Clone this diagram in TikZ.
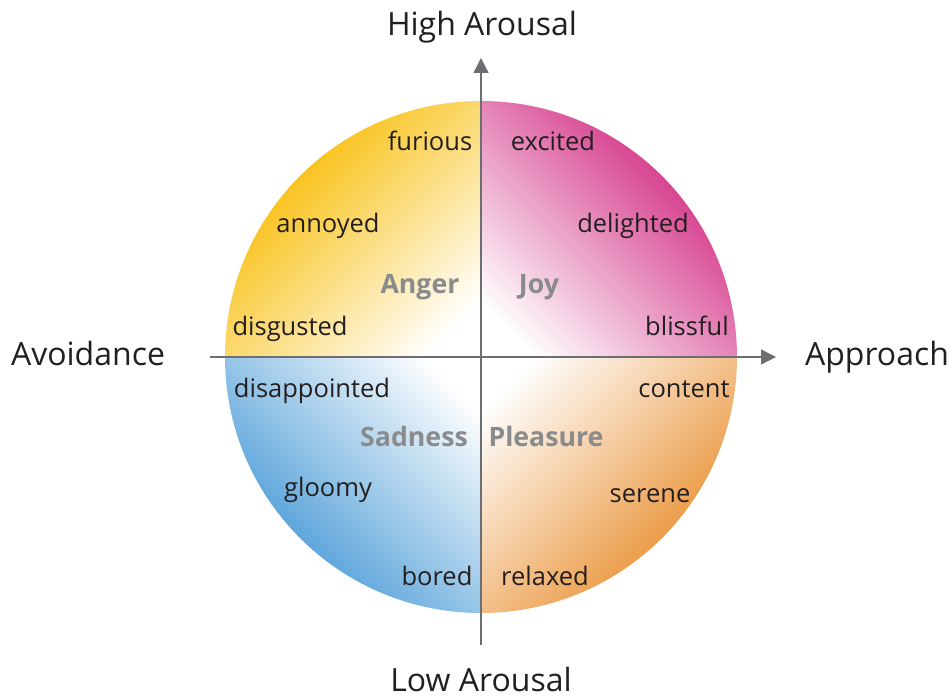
\documentclass[tikz,border=0pt]{standalone}
\usepackage{fontspec}
\setmainfont{Open Sans}
\usepackage{tikz}
\usetikzlibrary{arrows.meta, positioning}

\definecolor{angercol}{HTML}{F8C21B}
\definecolor{joycol}{HTML}{D63F8E}
\definecolor{sadcol}{HTML}{5AA4DA}
\definecolor{pleasecol}{HTML}{EB9A45}
\definecolor{axisgray}{HTML}{6D6E71}
\definecolor{moodgray}{HTML}{8A8B8D}
\definecolor{inkcol}{HTML}{231F20}

\colorlet{quadcol}{white}
\pgfdeclareverticalshading[quadcol]{quad}{100bp}{color(0bp)=(white); color(22bp)=(white); color(66bp)=(quadcol); color(100bp)=(quadcol)}

\begin{document}
\begin{tikzpicture}[
    x=1pt, y=1pt,
    word/.style={font=\fontsize{25.5}{30}\selectfont, text=inkcol, anchor=base, inner sep=0pt},
    mood/.style={font=\fontsize{26.7}{30}\selectfont\bfseries, text=moodgray, anchor=base, inner sep=0pt},
    axislabel/.style={font=\fontsize{32}{36}\selectfont, text=inkcol, anchor=base, inner sep=0pt},
    axis/.style={draw=axisgray, line width=1.3pt, -{Triangle[length=15pt, width=15pt]}}
]
\useasboundingbox (-481,-343) rectangle (469,357);

% quadrants
\colorlet{quadcol}{angercol}
\shade[shading=quad, shading angle=45] (0,0) -- (0,256) arc[start angle=90, end angle=180, radius=256] -- cycle;
\colorlet{quadcol}{joycol}
\shade[shading=quad, shading angle=-45] (0,0) -- (256,0) arc[start angle=0, end angle=90, radius=256] -- cycle;
\colorlet{quadcol}{sadcol}
\shade[shading=quad, shading angle=135] (0,0) -- (-256,0) arc[start angle=180, end angle=270, radius=256] -- cycle;
\colorlet{quadcol}{pleasecol}
\shade[shading=quad, shading angle=-135] (0,0) -- (0,-256) arc[start angle=270, end angle=360, radius=256] -- cycle;

% axes
\coordinate (ax_b) at (0,-288);
\coordinate (ax_t) at (0,299);
\coordinate (ax_l) at (-271,0);
\coordinate (ax_r) at (295,0);
\draw[axis] (ax_b) -- (ax_t);
\draw[axis] (ax_l) -- (ax_r);

\node[axislabel] (high) at (1,321) {High Arousal};
\node[axislabel] (low) at (0,-335) {Low Arousal};
\node[axislabel] (avoid) at (-393,-9) {Avoidance};
\node[axislabel] (appr) at (396,-9) {Approach};

% emotion words
\node[word] (furious) at (-51,206) {furious};
\node[word] (excited) at (72,206) {excited};
\node[word] (annoyed) at (-153,124) {annoyed};
\node[word] (delighted) at (152,124) {delighted};
\node[word] (disgusted) at (-191,21) {disgusted};
\node[word] (blissful) at (206,21) {blissful};
\node[word] (disapp) at (-169,-41) {disappointed};
\node[word] (content) at (203,-41) {content};
\node[word] (gloomy) at (-153,-140) {gloomy};
\node[word] (serene) at (169,-146) {serene};
\node[word] (bored) at (-44,-229) {bored};
\node[word] (relaxed) at (64,-229) {relaxed};

% quadrant names
\node[mood] (anger) at (-61,63) {Anger};
\node[mood] (joy) at (58,63) {Joy};
\node[mood] (sadness) at (-67,-90) {Sadness};
\node[mood] (pleasure) at (65,-90) {Pleasure};

\end{tikzpicture}
\end{document}
